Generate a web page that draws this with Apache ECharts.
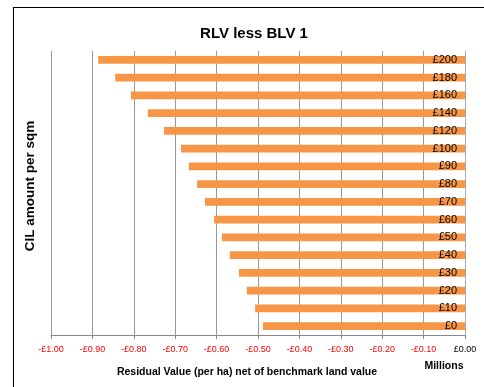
<!DOCTYPE html>
<html>
<head>
<meta charset="utf-8">
<script src="https://cdn.jsdelivr.net/npm/echarts@6/dist/echarts.min.js"></script>
<style>
  html, body { margin: 0; padding: 0; background: #fff; }
  #frame { position: absolute; left: 13px; top: 7px; width: 480px; height: 390px; border: 1px solid #000; box-sizing: border-box; }
  #chart { position: absolute; left: 0; top: 0; width: 484px; height: 387px; }
</style>
</head>
<body>
<div id="frame"></div>
<div id="chart"></div>
<script>
  // CIL amount per sqm (bottom to top)
  const categories = ['£0', '£10', '£20', '£30', '£40', '£50', '£60', '£70', '£80', '£90', '£100', '£120', '£140', '£160', '£180', '£200'];
  // residual value net of BLV, £ millions per ha
  const residual = [-0.488, -0.507, -0.527, -0.546, -0.568, -0.587, -0.606, -0.628, -0.647, -0.667, -0.686, -0.727, -0.766, -0.807, -0.845, -0.886];

  const chart = echarts.init(document.getElementById('chart'));

  const fmt = v => (v < 0 ? '-£' : '£') + Math.abs(v).toFixed(2);
  const font = 'Liberation Sans, Arial, sans-serif';

  chart.setOption({
    animation: false,
    textStyle: { fontFamily: font },
    title: {
      text: 'RLV less BLV 1',
      left: 249, top: 21, textAlign: 'center',
      textStyle: { fontSize: 15, fontWeight: 'bold', color: '#000' }
    },
    grid: { left: 51, right: 19, top: 51, bottom: 52 },
    xAxis: {
      type: 'value',
      min: -1, max: 0, interval: 0.1,
      axisLine: { show: true, lineStyle: { color: '#888' } },
      axisTick: { show: true, length: 4, lineStyle: { color: '#888' } },
      splitLine: { show: true, lineStyle: { color: '#999', width: 1 } },
      axisLabel: {
        fontSize: 9, margin: 10,
        formatter: fmt,
        color: v => (v < 0 ? '#ff0000' : '#000')
      }
    },
    yAxis: {
      type: 'category',
      data: categories,
      position: 'right',
      z: 10,
      axisLine: { show: true, lineStyle: { color: '#aaa' } },
      axisTick: { show: false },
      splitLine: { show: false },
      axisLabel: { inside: true, margin: 8, fontSize: 11, color: '#000' }
    },
    series: [{
      type: 'bar',
      data: residual,
      barCategoryGap: '55%',
      itemStyle: { color: '#f79646' }
    }],
    graphic: [
      {
        type: 'text', x: 247, y: 372,
        style: { text: 'Residual Value (per ha) net of benchmark land value', font: 'bold 10.5px ' + font, fill: '#000', align: 'center', verticalAlign: 'middle' }
      },
      {
        type: 'text', x: 444, y: 366,
        style: { text: 'Millions', font: 'bold 10.5px ' + font, fill: '#000', align: 'center', verticalAlign: 'middle' }
      },
      {
        type: 'text', x: 30, y: 186, rotation: Math.PI / 2,
        style: { text: 'CIL amount per sqm', font: 'bold 13.5px ' + font, fill: '#000', align: 'center', verticalAlign: 'middle' }
      }
    ]
  });
</script>
</body>
</html>
